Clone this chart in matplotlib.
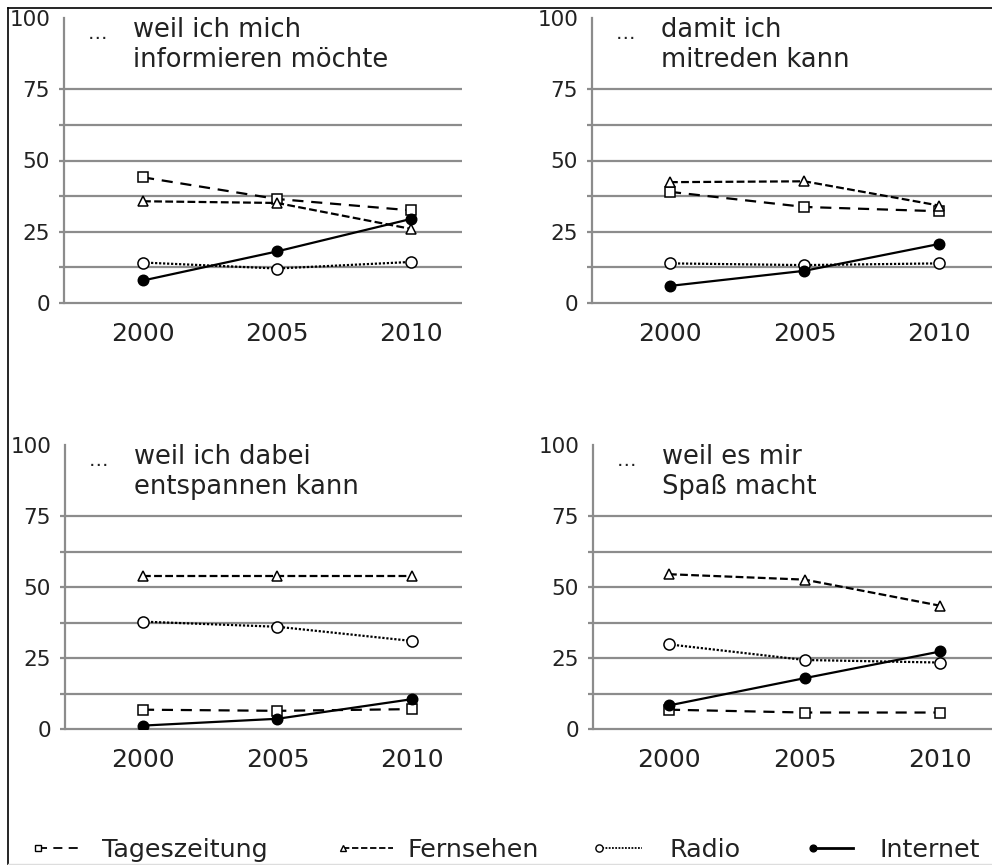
import numpy as np
import matplotlib
matplotlib.use("Agg")
import matplotlib.pyplot as plt
from matplotlib.lines import Line2D
from matplotlib.legend_handler import HandlerLine2D

# data (percent)
years = [2000, 2005, 2010]
series = ["Tageszeitung", "Fernsehen", "Radio", "Internet"]
titles = [
    "weil ich mich\ninformieren möchte",
    "damit ich\nmitreden kann",
    "weil ich dabei\nentspannen kann",
    "weil es mir\nSpaß macht",
]
informieren = {
    "Tageszeitung": [44.1, 36.5, 32.5],
    "Fernsehen": [35.7, 35.1, 26.0],
    "Radio": [14.2, 12.1, 14.4],
    "Internet": [7.9, 18.1, 29.5],
}
mitreden = {
    "Tageszeitung": [39.0, 33.7, 32.2],
    "Fernsehen": [42.4, 42.7, 34.2],
    "Radio": [13.9, 13.3, 13.9],
    "Internet": [6.0, 11.3, 20.7],
}
entspannen = {
    "Tageszeitung": [6.8, 6.4, 7.0],
    "Fernsehen": [54.0, 54.0, 54.0],
    "Radio": [37.8, 36.0, 31.0],
    "Internet": [1.2, 3.6, 10.5],
}
spass = {
    "Tageszeitung": [6.8, 5.8, 5.8],
    "Fernsehen": [54.5, 52.6, 43.4],
    "Radio": [29.8, 24.3, 23.4],
    "Internet": [8.3, 17.9, 27.3],
}
panels = [informieren, mitreden, entspannen, spass]

styles = {
    "Tageszeitung": dict(linestyle=(0, (5, 3.5)), marker="s", markerfacecolor="white", markersize=7),
    "Fernsehen": dict(linestyle=(0, (3.5, 1.5)), marker="^", markerfacecolor="white", markersize=7.5),
    "Radio": dict(linestyle=(0, (1, 0.8)), marker="o", markerfacecolor="white", markersize=8),
    "Internet": dict(linestyle="-", marker="o", markerfacecolor="black", markersize=7.5),
}

W, H = 992, 865
fig = plt.figure(figsize=(W / 100, H / 100), dpi=100)
grey = "#8c8c8c"
ink = "#222222"

# axes boxes in pixels: left, right, y of 0, y of 100, xlim
boxes = [
    (64, 462, 303, 18, (1997.05, 2011.9)),
    (592, 1000, 303, 18, (1997.1, 2012.27)),
    (65, 462, 729, 445, (1997.1, 2011.86)),
    (593, 1000, 729, 445, (1997.2, 2012.2)),
]

for data, title, (l, r, y0, y100, xlim) in zip(panels, titles, boxes):
    ax = fig.add_axes([l / W, (H - y0) / H, (r - l) / W, (y0 - y100) / H])
    ax.set_xlim(*xlim)
    ax.set_ylim(0, 100)
    for s in ["top", "right", "bottom"]:
        ax.spines[s].set_visible(False)
    ax.spines["left"].set_color(grey)
    ax.spines["left"].set_linewidth(1.6)
    ax.hlines(np.arange(0, 76, 12.5), -0.012, 1, transform=ax.get_yaxis_transform(),
              color=grey, lw=1.6, clip_on=False, zorder=1)
    ax.set_yticks([0, 25, 50, 75, 100])
    ax.set_xticks(years)
    ax.tick_params(axis="y", length=0, pad=10, labelsize=15.5, labelcolor=ink)
    ax.tick_params(axis="x", length=0, pad=14, labelsize=18, labelcolor=ink)
    for name in series:
        ax.plot(years, data[name], color="black", lw=1.6, markeredgecolor="black",
                markeredgewidth=1.1, zorder=3, **styles[name])
    ax.annotate("…", xy=(0, 1), xycoords="axes fraction", xytext=(24, -6),
                textcoords="offset pixels", ha="left", va="top", fontsize=14, color=ink)
    ax.annotate(title, xy=(0, 1), xycoords="axes fraction", xytext=(69, 1),
                textcoords="offset pixels", ha="left", va="top", fontsize=18.5,
                linespacing=1.22, color=ink)


class StartMarkerHandler(HandlerLine2D):
    # marker at the left end of the legend line, like the reference
    def create_artists(self, legend, orig_handle, xdescent, ydescent, width, height, fontsize, trans):
        y = (height - ydescent) / 2
        line = Line2D([-xdescent, width - xdescent], [y, y])
        self.update_prop(line, orig_handle, legend)
        line.set_marker("None")
        mk = Line2D([-xdescent], [y])
        self.update_prop(mk, orig_handle, legend)
        mk.set_linestyle("None")
        line.set_transform(trans)
        mk.set_transform(trans)
        return [line, mk]


legend_x = [38, 343, 599, 813]
legend_len = [44, 50, 43, 40]
legend_pad = [20, 15, 28, 27]
for name, x0, hl, tp in zip(series, legend_x, legend_len, legend_pad):
    st = dict(styles[name])
    st["markersize"] = st["markersize"] * 0.65
    h = Line2D([], [], color="black", lw=1.3 if name != "Internet" else 2, markeredgecolor="black",
               markeredgewidth=1, **st)
    fs = 18.3
    fpx = fs * 100 / 72
    fig.legend(handles=[h], labels=[name], loc="center left", bbox_to_anchor=(x0 / W, (H - 850) / H),
               frameon=False, borderpad=0, borderaxespad=0, handlelength=hl / fpx,
               handletextpad=tp / fpx, fontsize=fs, handler_map={h: StartMarkerHandler()},
               labelcolor=ink)

# outer frame lines
fig.add_artist(Line2D([8 / W, 8 / W], [0, (H - 8) / H], color="black", lw=1.2))
fig.add_artist(Line2D([8 / W, 1], [(H - 8) / H, (H - 8) / H], color="black", lw=1.2))
fig.add_artist(Line2D([8 / W, 1], [1 / H, 1 / H], color="#dddddd", lw=1))

fig.savefig("out.png", dpi=100)
